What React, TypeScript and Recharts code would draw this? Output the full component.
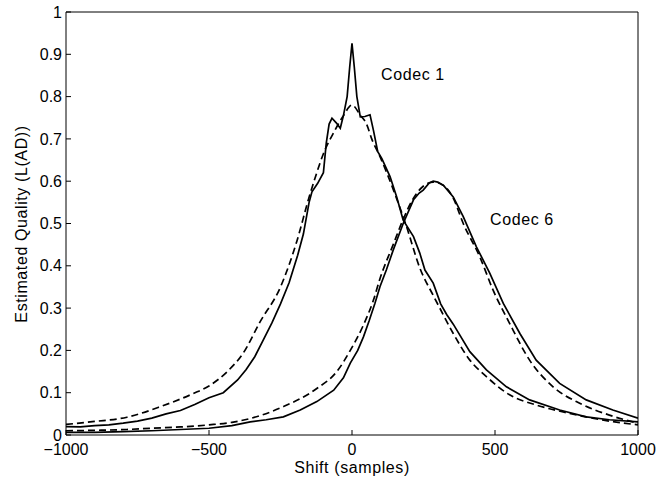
import { LineChart, Line, XAxis, YAxis, Customized } from 'recharts';

// shift values (samples) and estimated quality
const codec1Shift = [-1000, -950, -900, -850, -800, -750, -700, -650, -600, -550, -500, -450, -400, -370, -340, -310, -280, -250, -220, -190, -170, -150, -140, -120, -100, -90, -80, -70, -55, -41, -30, -17, -8, 0, 8, 17, 29, 45, 63, 75, 90, 104, 133, 156, 179, 215, 237, 255, 284, 310, 331, 354, 412, 470, 540, 621, 726, 819, 900, 1000];
const codec1Measured = [0.02, 0.019, 0.022, 0.024, 0.028, 0.033, 0.04, 0.05, 0.058, 0.072, 0.088, 0.1, 0.13, 0.155, 0.185, 0.225, 0.265, 0.31, 0.36, 0.425, 0.475, 0.55, 0.575, 0.595, 0.62, 0.69, 0.735, 0.749, 0.738, 0.725, 0.755, 0.8, 0.87, 0.926, 0.87, 0.8, 0.752, 0.753, 0.757, 0.72, 0.67, 0.654, 0.611, 0.563, 0.508, 0.469, 0.43, 0.39, 0.359, 0.31, 0.285, 0.262, 0.197, 0.154, 0.114, 0.083, 0.059, 0.043, 0.036, 0.031];

const codec1FitShift = [-1000, -900, -787, -670, -555, -500, -436, -380, -321, -250, -192, -151, -128, -100, -60, -30, 0, 30, 51, 69, 98, 150, 191, 237, 284, 307, 354, 412, 470, 551, 644, 761, 880, 1000];
const codec1Fit = [0.025, 0.032, 0.042, 0.067, 0.098, 0.116, 0.15, 0.194, 0.268, 0.35, 0.46, 0.56, 0.61, 0.665, 0.72, 0.755, 0.78, 0.755, 0.735, 0.7, 0.658, 0.57, 0.492, 0.395, 0.33, 0.3, 0.24, 0.177, 0.138, 0.095, 0.071, 0.051, 0.035, 0.024];

const codec6Shift = [-1000, -900, -800, -700, -600, -500, -420, -356, -300, -240, -181, -123, -64, -30, -6, 20, 40, 60, 80, 98, 120, 144, 179, 215, 235, 249, 270, 284, 300, 320, 354, 389, 435, 482, 529, 587, 644, 726, 819, 912, 1000];
const codec6Measured = [0.006, 0.006, 0.008, 0.01, 0.013, 0.016, 0.022, 0.031, 0.036, 0.043, 0.059, 0.079, 0.106, 0.135, 0.17, 0.2, 0.232, 0.27, 0.311, 0.351, 0.39, 0.437, 0.5, 0.556, 0.572, 0.579, 0.596, 0.6, 0.598, 0.59, 0.563, 0.516, 0.445, 0.382, 0.311, 0.24, 0.177, 0.122, 0.083, 0.059, 0.04];

const codec6FitShift = [-1000, -900, -787, -700, -600, -500, -420, -356, -240, -123, -53, -6, 40, 75, 98, 144, 179, 215, 249, 284, 320, 354, 389, 447, 493, 551, 621, 703, 796, 900, 1000];
const codec6Fit = [0.01, 0.011, 0.013, 0.016, 0.019, 0.024, 0.03, 0.039, 0.067, 0.11, 0.15, 0.2, 0.26, 0.319, 0.37, 0.45, 0.51, 0.56, 0.588, 0.598, 0.59, 0.56, 0.5, 0.421, 0.343, 0.264, 0.177, 0.114, 0.075, 0.047, 0.028];

const xTicks = [-1000, -500, 0, 500, 1000];
const yTicks = [0, 0.1, 0.2, 0.3, 0.4, 0.5, 0.6, 0.7, 0.8, 0.9, 1];
const yTickLabels = ['0', '0.1', '0.2', '0.3', '0.4', '0.5', '0.6', '0.7', '0.8', '0.9', '1'];

const zip = (xs: number[], ys: number[]) => xs.map((x, i) => ({ x, y: ys[i] }));

const font = '"Liberation Sans", Arial, sans-serif';
const tickStyle = { fill: '#000', fontSize: 16, fontFamily: font };

const Annotations = () => (
    <g fontFamily={font} fontSize={16} fill="#000" letterSpacing={0.6}>
        <text x={381} y={80}>Codec 1</text>
        <text x={490} y={225}>Codec 6</text>
        <text x={352} y={473} textAnchor="middle">Shift (samples)</text>
        <text x={27} y={224} textAnchor="middle" transform="rotate(-90, 27, 224)">Estimated Quality (L(AD))</text>
    </g>
);

const App = () => {
    const lines = [
        { key: 'c1', data: zip(codec1Shift, codec1Measured), dash: undefined, curve: 'linear' },
        { key: 'c1fit', data: zip(codec1FitShift, codec1Fit), dash: '7 4', curve: 'monotone' },
        { key: 'c6', data: zip(codec6Shift, codec6Measured), dash: undefined, curve: 'linear' },
        { key: 'c6fit', data: zip(codec6FitShift, codec6Fit), dash: '7 4', curve: 'monotone' },
    ];
    return (
        <div style={{ position: 'absolute', left: 0, top: 0, width: 660, height: 481, background: '#fff' }}>
            <LineChart width={660} height={481} margin={{ top: 11, right: 21, left: 0, bottom: 0 }}>
                <XAxis xAxisId="b" type="number" dataKey="x" domain={[-1000, 1000]} ticks={xTicks}
                    height={46} tickSize={-5} tickMargin={14} tick={tickStyle}
                    tickFormatter={(v: number) => String(v).replace('-', '\u2212')}
                    axisLine={{ stroke: '#000' }} tickLine={{ stroke: '#000' }} allowDataOverflow />
                <XAxis xAxisId="t" orientation="top" type="number" dataKey="x" domain={[-1000, 1000]} ticks={xTicks}
                    height={1} tickSize={-5} tick={false} axisLine={{ stroke: '#000' }} tickLine={{ stroke: '#000' }} />
                <YAxis yAxisId="l" type="number" domain={[0, 1]} ticks={yTicks} width={66}
                    tickSize={-5} tickMargin={9} tick={tickStyle}
                    tickFormatter={(v: number) => yTickLabels[yTicks.indexOf(v)] ?? String(v)}
                    axisLine={{ stroke: '#000' }} tickLine={{ stroke: '#000' }} />
                <YAxis yAxisId="r" orientation="right" type="number" domain={[0, 1]} ticks={yTicks} width={1}
                    tickSize={-5} tick={false} axisLine={{ stroke: '#000' }} tickLine={{ stroke: '#000' }} />
                {lines.map((l) => (
                    <Line key={l.key} xAxisId="b" yAxisId="l" data={l.data} dataKey="y" type={l.curve as 'linear'}
                        stroke="#000" strokeWidth={1.7} strokeDasharray={l.dash} dot={false}
                        isAnimationActive={false} />
                ))}
                <Customized component={Annotations} />
            </LineChart>
        </div>
    );
};

export default App;
